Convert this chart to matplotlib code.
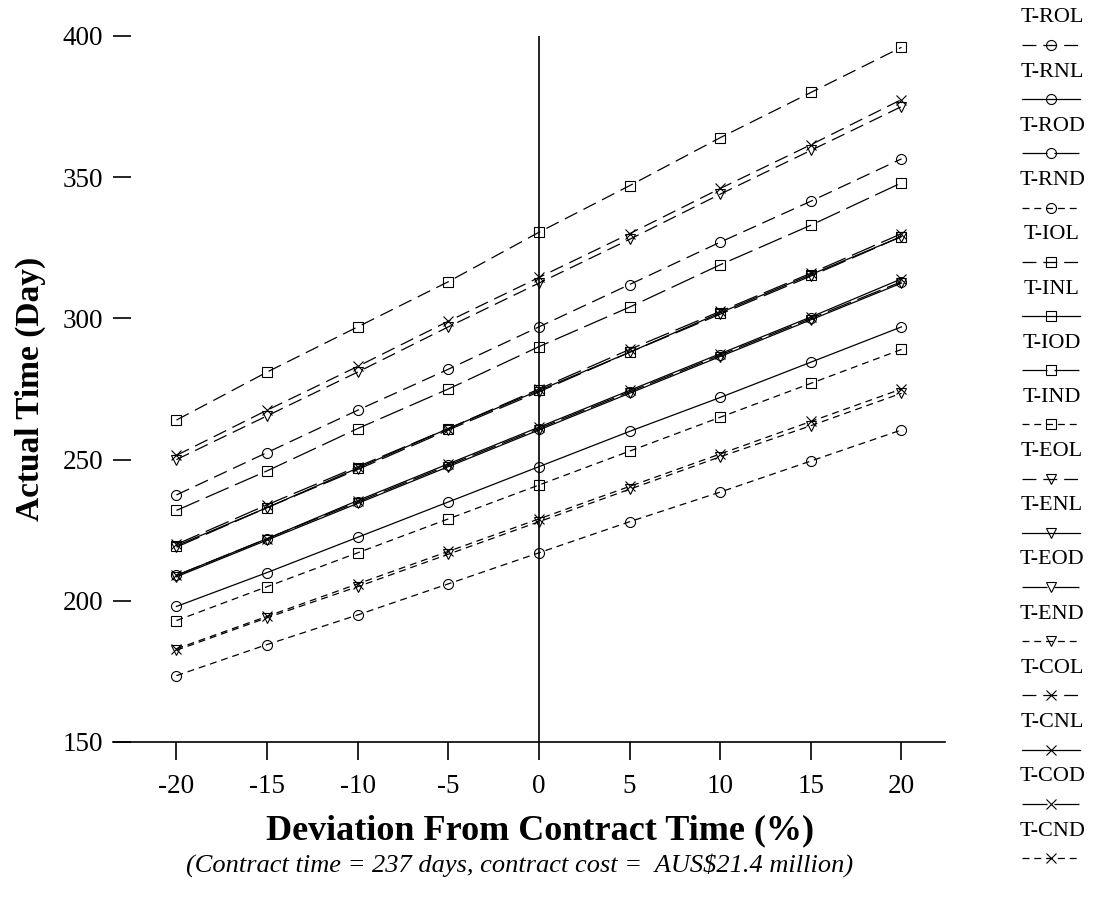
import matplotlib
matplotlib.use("Agg")
import matplotlib.pyplot as plt

plt.rcParams['font.family'] = ['Liberation Serif', 'DejaVu Serif']
plt.rcParams['lines.scale_dashes'] = False

# ---- data ----
deviation = [-20, -15, -10, -5, 0, 5, 10, 15, 20]
xticks = [-20, -15, -10, -5, 0, 5, 10, 15, 20]
yticks = [150, 200, 250, 300, 350, 400]

series_names = ["T-ROL", "T-RNL", "T-ROD", "T-RND",
                "T-IOL", "T-INL", "T-IOD", "T-IND",
                "T-EOL", "T-ENL", "T-EOD", "T-END",
                "T-COL", "T-CNL", "T-COD", "T-CND"]

t_rol = [237.5, 252.5, 267.5, 282, 297, 312, 327, 341.5, 356.5]
t_rnl = [198, 210, 222.5, 235, 247.5, 260, 272, 284.5, 297]
t_rod = [209, 222, 235, 248, 261, 274, 287, 300, 313]
t_rnd = [173.5, 184.5, 195, 206, 217, 228, 238.5, 249.5, 260.5]

t_iol = [264, 281, 297, 313, 330.5, 347, 364, 380, 396]
t_inl = [219.5, 233, 247, 261, 274.5, 288, 302, 315.5, 329]
t_iod = [232, 246, 261, 275, 290, 304, 319, 333, 348]
t_ind = [193, 205, 217, 229, 241, 253, 265, 277, 289]

t_eol = [250, 265.5, 281, 297, 312.5, 328, 344, 359.5, 375]
t_enl = [208.5, 221.5, 234.5, 247.5, 260.5, 273.5, 286.5, 299.5, 312.5]
t_eod = [219, 233, 246.5, 260.5, 274, 288, 301.5, 315, 329]
t_end = [182.5, 194, 205, 216.5, 228, 239.5, 251, 262, 273.5]

t_col = [251.5, 267.5, 283, 299, 314.5, 330, 346, 361.5, 377.5]
t_cnl = [209, 222, 235.5, 248.5, 261.5, 274.5, 287.5, 300.5, 314]
t_cod = [220, 234, 247.5, 261, 275, 289, 302.5, 316, 330]
t_cnd = [183, 194.5, 206, 217.5, 229, 240.5, 252, 263.5, 275]

series_values = [t_rol, t_rnl, t_rod, t_rnd,
                 t_iol, t_inl, t_iod, t_ind,
                 t_eol, t_enl, t_eod, t_end,
                 t_col, t_cnl, t_cod, t_cnd]

# ---- styles ----
marker_of = {"R": "o", "I": "s", "E": "v", "C": "x"}
msize_of = {"R": 7.2, "I": 7.2, "E": 6.5, "C": 7.5}
dash_of = {"OL": (0, (10, 5)), "NL": "-", "OD": (0, (18, 5)), "ND": (0, (5, 3.5))}

fig = plt.figure(figsize=(10.94, 9.0), dpi=100)
ax = fig.add_axes([113/1094, 1 - 742/900, (945-113)/1094, (742-36)/900])

for name, vals in zip(series_names, series_values):
    k = name[2]
    st = name[3:]
    ax.plot(deviation, vals, color='black', lw=0.9, linestyle=dash_of[st],
            marker=marker_of[k], markersize=msize_of[k], fillstyle='none',
            markeredgewidth=0.8, markeredgecolor='black')

ax.set_xlim(-23.5, 22.4)
ax.set_ylim(150, 400)
ax.axvline(0, color='black', lw=1.2)

for s in ['left', 'top', 'right']:
    ax.spines[s].set_visible(False)
ax.spines['bottom'].set_linewidth(1.2)

ax.set_xticks(xticks)
ax.set_xticklabels([str(v) for v in xticks])
ax.set_yticks(yticks)
ax.set_yticklabels([str(v) for v in yticks])
ax.tick_params(axis='x', direction='out', length=13, width=1.2, labelsize=19.5, pad=10)
ax.tick_params(axis='y', direction='in', length=13, width=1.2, labelsize=19.5, pad=7)

ax.set_ylabel("Actual Time (Day)", fontsize=24, fontweight='bold', labelpad=12)

fig.text(540/1094, 1 - 831/900, "Deviation From Contract Time (%)",
         fontsize=26, fontweight='bold', ha='center', va='center')
fig.text(520/1094, 1 - 865/900, "(Contract time = 237 days, contract cost =  AUS$21.4 million)",
         fontsize=19, style='italic', ha='center', va='center')

# ---- legend (label above line sample) ----
lax = fig.add_axes([0, 0, 1, 1])
lax.set_xlim(0, 1094)
lax.set_ylim(900, 0)
lax.axis('off')
for i, name in enumerate(series_names):
    k = name[2]
    st = name[3:]
    ly = 45 + 54.2 * i
    lax.text(1052, ly - 27, name, fontsize=16, ha='center', va='center')
    lax.plot([1022, 1051, 1080], [ly, ly, ly], color='black', lw=0.9,
             linestyle=dash_of[st], marker=marker_of[k], markevery=[1],
             markersize=msize_of[k], fillstyle='none',
             markeredgewidth=0.8, markeredgecolor='black')

fig.savefig("out.png", dpi=100)
